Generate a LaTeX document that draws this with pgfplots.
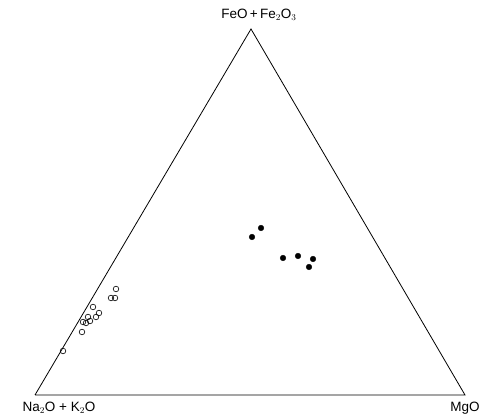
\documentclass[border=0pt]{standalone}
\usepackage{pgfplots}
\pgfplotsset{compat=1.18}
\usepackage{fontspec}
\setmainfont{Liberation Sans}
\begin{document}
\begin{tikzpicture}
\begin{axis}[
  x=1pt, y=1pt,
  xmin=0, xmax=486, ymin=0, ymax=419,
  hide axis, clip=false,
]
\path (rel axis cs:0,0) rectangle (rel axis cs:1,1);
% triangle (pixel coords, y measured upward)
\addplot[black, line width=0.8pt, mark=none] coordinates {
  (35,24) (465,24) (251,390) (35,24)
};
% open circles
\addplot[only marks, mark=o, mark size=2.8pt, black, line width=0.6pt] coordinates {
  (116,130) (111,121) (115,121) (93,112) (99,106) (96,102)
  (88,102) (83,97) (86,96) (90,98) (82,87) (63,68)
};
% filled circles
\addplot[only marks, mark=*, mark size=2.8pt, black] coordinates {
  (261,191) (252,182) (283,161) (298,163) (313,160) (309,152)
};
\node[anchor=center, font=\fontsize{13.5}{15}\selectfont] at (axis cs:259,404) {FeO\,+\,Fe$_2$O$_3$};
\node[anchor=center, font=\fontsize{13.5}{15}\selectfont] at (axis cs:59,11) {Na$_2$O + K$_2$O};
\node[anchor=center, font=\fontsize{13.5}{15}\selectfont] at (axis cs:465,11) {MgO};
\end{axis}
\end{tikzpicture}
\end{document}
